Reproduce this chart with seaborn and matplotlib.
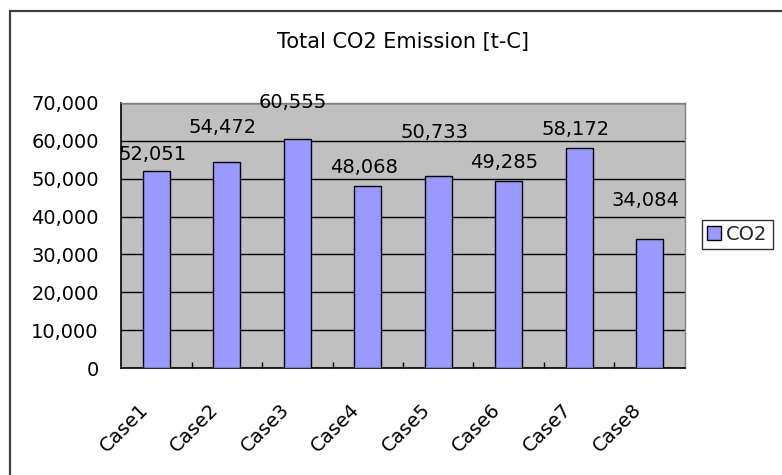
import matplotlib
matplotlib.use("Agg")
import matplotlib.pyplot as plt
from matplotlib.patches import Rectangle
from matplotlib.transforms import ScaledTranslation
from matplotlib.ticker import FixedLocator, FuncFormatter
import seaborn as sns
import pandas as pd

# Emission totals per case, tonnes of carbon
cases = ["Case1", "Case2", "Case3", "Case4", "Case5", "Case6", "Case7", "Case8"]
co2 = [52051, 54472, 60555, 48068, 50733, 49285, 58172, 34084]
y_ticks = [0, 10000, 20000, 30000, 40000, 50000, 60000, 70000]

# vertical nudge (points) of each value label above its bar top
label_lift = [11.5, 24.5, 26, 13.5, 31, 13.5, 13.5, 27.5]

sns.set_theme(style="white")
plt.rcParams["font.family"] = ["DejaVu Sans"]

W, H = 782, 475
fig = plt.figure(figsize=(W / 100, H / 100), dpi=100)
fig.patch.set_facecolor("white")


def px_box(x0, y0, x1, y1):
    return [x0 / W, 1 - y1 / H, (x1 - x0) / W, (y1 - y0) / H]


ax = fig.add_axes(px_box(121, 103, 685, 368))
ax.set_facecolor("#C0C0C0")

df = pd.DataFrame({"case": cases, "CO2": co2})
sns.barplot(data=df, x="case", y="CO2", color="#9999FF", saturation=1,
            width=0.39, edgecolor="black", linewidth=1.0, ax=ax, zorder=3)

ax.set_xlim(-0.5, len(cases) - 0.5)
ax.set_ylim(0, 70000)
ax.set_xlabel("")
ax.set_ylabel("")

# horizontal gridlines
ax.yaxis.set_major_locator(FixedLocator(y_ticks))
ax.yaxis.set_major_formatter(FuncFormatter(lambda v, p: f"{int(v):,}"))
ax.grid(axis="y", color="black", linewidth=1.0, zorder=1)
ax.grid(axis="x", visible=False)
ax.set_axisbelow(True)
ax.tick_params(axis="y", length=0, pad=16, labelsize=14, colors="black")

# category labels and boundary ticks
ax.set_xticks(range(len(cases)))
ax.set_xticklabels(cases, rotation=45, ha="right", va="center",
                   rotation_mode="anchor", fontsize=14)
ax.tick_params(axis="x", which="major", bottom=True, length=0, pad=28,
               colors="black")
ax.set_xticks([i + 0.5 for i in range(len(cases) - 1)], minor=True)
ax.tick_params(axis="x", which="minor", bottom=True, direction="in",
               length=4, width=1, color="black")
shift = ScaledTranslation(-11 / 100, 0, fig.dpi_scale_trans)
for lbl in ax.get_xticklabels():
    lbl.set_transform(lbl.get_transform() + shift)

for side in ["left", "bottom"]:
    ax.spines[side].set_color("black")
    ax.spines[side].set_linewidth(1.2)
for side in ["top", "right"]:
    ax.spines[side].set_color("#808080")
    ax.spines[side].set_linewidth(1.0)

# value labels
for i, (v, lift) in enumerate(zip(co2, label_lift)):
    ax.annotate(f"{v:,}", xy=(i, v), xytext=(-3, lift),
                textcoords="offset points", ha="center", va="center",
                fontsize=14, color="black", zorder=5)

# legend
handle = Rectangle((0, 0), 1, 1, facecolor="#9999FF", edgecolor="black",
                   linewidth=1.0)
leg = fig.legend(handles=[handle], labels=["CO2"], loc="upper left",
                 bbox_to_anchor=(702 / W, 1 - 220 / H), fontsize=14,
                 frameon=True, fancybox=False, borderpad=0.25,
                 handlelength=0.75, handleheight=0.75, handletextpad=0.25,
                 borderaxespad=0)
leg.get_frame().set_edgecolor("black")
leg.get_frame().set_linewidth(1.0)

# title
fig.text(403 / W, 1 - 42 / H, "Total CO2 Emission [t-C]", ha="center",
         va="center", fontsize=15, color="black")

# chart border
fig.patches.append(Rectangle((10 / W, -0.1), 1.2, 1 - 11 / H + 0.1,
                             transform=fig.transFigure, fill=False,
                             edgecolor="#404040", linewidth=1.6))

fig.savefig("out.png", dpi=100, facecolor="white")
